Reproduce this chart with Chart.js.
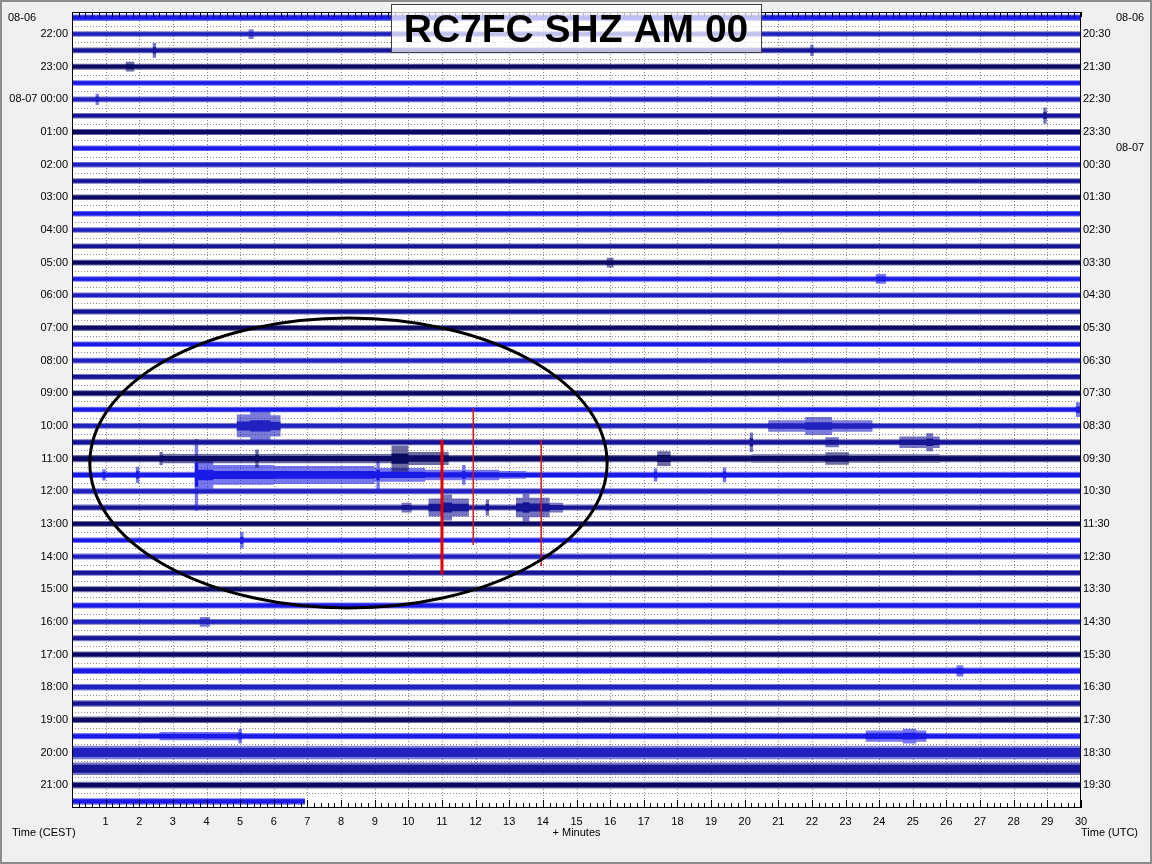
<!DOCTYPE html>
<html>
<head>
<meta charset="utf-8">
<script src="https://cdn.jsdelivr.net/npm/chart.js@4.4.0/dist/chart.umd.min.js"></script>
<style>
  html, body { margin: 0; padding: 0; background: #f0f0f0; }
  canvas { display: block; }
</style>
</head>
<body>
<canvas id="heli" width="1152" height="864"></canvas>
<script>
// ==============================
// DATA (read off the helicorder)
// ==============================
const title = 'RC7FC SHZ AM 00';

// left labels (CEST) for the odd traces 1,3,...,47
const leftLabels = ['22:00', '23:00', '08-07 00:00', '01:00', '02:00', '03:00', '04:00', '05:00',
  '06:00', '07:00', '08:00', '09:00', '10:00', '11:00', '12:00', '13:00', '14:00', '15:00',
  '16:00', '17:00', '18:00', '19:00', '20:00', '21:00'];

// right labels (UTC, end of line) for the same traces
const rightLabels = ['20:30', '21:30', '22:30', '23:30', '00:30', '01:30', '02:30', '03:30',
  '04:30', '05:30', '06:30', '07:30', '08:30', '09:30', '10:30', '11:30', '12:30', '13:30',
  '14:30', '15:30', '16:30', '17:30', '18:30', '19:30'];

// date labels: [trace, text]
const leftDates = [[0, '08-06']];
const rightDates = [[0, '08-06'], [8, '08-07']];

// minutes on the x axis
const minuteTicks = [1, 2, 3, 4, 5, 6, 7, 8, 9, 10, 11, 12, 13, 14, 15, 16, 17, 18, 19, 20,
  21, 22, 23, 24, 25, 26, 27, 28, 29, 30];

// background noise half-amplitude of each trace (in trace spacings)
const baseAmp = [0.20, 0.17, 0.17, 0.18, 0.17, 0.18, 0.17, 0.18, 0.17, 0.17,
  0.17, 0.17, 0.17, 0.17, 0.17, 0.17, 0.17, 0.17, 0.17, 0.18,
  0.17, 0.17, 0.18, 0.18, 0.17, 0.18, 0.18, 0.22, 0.19, 0.18,
  0.18, 0.18, 0.17, 0.18, 0.18, 0.18, 0.18, 0.18, 0.18, 0.18,
  0.20, 0.20, 0.20, 0.20, 0.19, 0.42, 0.38, 0.20, 0.20];

// last line stops here (minutes)
const lastTraceEnd = 6.93;

// events: [trace, from min, to min, half-amplitude]
const events = [
  [1, 5.25, 5.4, 0.3],
  [2, 2.4, 2.5, 0.45],
  [2, 21.95, 22.05, 0.35],
  [3, 1.6, 1.85, 0.3],
  [5, 0.7, 0.8, 0.35],
  [6, 28.88, 28.98, 0.5],
  [15, 15.9, 16.1, 0.3],
  [16, 23.9, 24.2, 0.3],
  [24, 29.85, 30, 0.45],
  [25, 4.9, 5.3, 0.7],
  [25, 5.3, 5.9, 0.95],
  [25, 5.9, 6.2, 0.65],
  [25, 20.7, 21.8, 0.35],
  [25, 21.8, 22.6, 0.55],
  [25, 22.6, 23.8, 0.35],
  [26, 20.15, 20.25, 0.6],
  [26, 22.4, 22.8, 0.3],
  [26, 24.6, 25.8, 0.35],
  [26, 25.4, 25.6, 0.55],
  [27, 2.6, 2.7, 0.4],
  [27, 2.7, 9.5, 0.28],
  [27, 5.45, 5.55, 0.55],
  [27, 9.5, 10.0, 0.8],
  [27, 10.0, 11.2, 0.4],
  [27, 17.4, 17.8, 0.45],
  [27, 20.2, 25.8, 0.26],
  [27, 22.4, 23.1, 0.38],
  [28, 0.9, 1.0, 0.35],
  [28, 1.9, 2.0, 0.5],
  [28, 3.65, 3.75, 2.2],
  [28, 3.75, 4.2, 0.85],
  [28, 4.2, 6.0, 0.6],
  [28, 6.0, 9.0, 0.55],
  [28, 9.0, 10.5, 0.42],
  [28, 9.05, 9.15, 0.9],
  [28, 10.5, 12.7, 0.32],
  [28, 11.6, 11.7, 0.6],
  [28, 12.7, 13.5, 0.24],
  [28, 17.3, 17.4, 0.4],
  [28, 19.35, 19.45, 0.45],
  [30, 9.8, 10.1, 0.3],
  [30, 10.6, 11.8, 0.55],
  [30, 11.0, 11.3, 0.8],
  [30, 12.3, 12.4, 0.5],
  [30, 13.2, 14.2, 0.6],
  [30, 13.4, 13.6, 0.85],
  [30, 14.2, 14.6, 0.3],
  [32, 5.0, 5.1, 0.5],
  [37, 3.8, 4.1, 0.3],
  [40, 26.3, 26.5, 0.35],
  [44, 2.6, 5.0, 0.25],
  [44, 4.95, 5.05, 0.45],
  [44, 23.6, 25.4, 0.35],
  [44, 24.7, 25.1, 0.45]
];

// red picks: [minute, from trace, to trace, line width]
const redMarks = [
  [11.0, 25.85, 34.1, 3],
  [11.93, 23.9, 32.3, 1.5],
  [13.95, 25.85, 33.6, 1.5]
];

// hand drawn ellipse (minutes / traces)
const circle = { cx: 8.22, cy: 27.27, rx: 7.69, ry: 8.88 };

// ==============================
// STYLE
// ==============================
const traceColors = ['#1a1ae6', '#2222c0', '#161696', '#0a0a64'];
const FONT = '"Liberation Sans", Arial, sans-serif';

function hexA(hex, a) {
  const n = parseInt(hex.slice(1), 16);
  return `rgba(${n >> 16},${(n >> 8) & 255},${n & 255},${a})`;
}

// step envelope of one trace -> [x, outer amp, core amp]
function envelope(i) {
  const end = i === baseAmp.length - 1 ? lastTraceEnd : 30;
  const base = baseAmp[i];
  const evs = events.filter(e => e[0] === i && e[1] < end);
  const xs = new Set([0, end]);
  evs.forEach(e => { xs.add(e[1]); xs.add(Math.min(e[2], end)); });
  const sorted = [...xs].sort((a, b) => a - b);
  const pts = [];
  for (let k = 0; k < sorted.length - 1; k++) {
    const a = sorted[k], b = sorted[k + 1], mid = (a + b) / 2;
    let amp = base;
    evs.forEach(e => { if (e[1] <= mid && mid < e[2]) amp = Math.max(amp, e[3]); });
    const core = base * 0.65 + (amp - base) * 0.3;
    pts.push([a, amp, core], [b, amp, core]);
  }
  return pts;
}

const datasets = [];
baseAmp.forEach((_, i) => {
  const env = envelope(i);
  const col = traceColors[i % 4];
  const common = { type: 'line', pointRadius: 0, borderWidth: 0, tension: 0, order: 1 };
  datasets.push({ ...common, data: env.map(([x, a]) => ({ x, y: i - a })), fill: false });
  datasets.push({ ...common, data: env.map(([x, a]) => ({ x, y: i + a })), fill: '-1', backgroundColor: hexA(col, 0.6) });
  datasets.push({ ...common, data: env.map(([x, a, c]) => ({ x, y: i - c })), fill: false });
  datasets.push({ ...common, data: env.map(([x, a, c]) => ({ x, y: i + c })), fill: '-1', backgroundColor: col });
});
redMarks.forEach(([m, t0, t1, w]) => {
  datasets.push({
    type: 'line', data: [{ x: m, y: t0 }, { x: m, y: t1 }],
    borderColor: w > 2 ? '#e00000' : '#d01818', borderWidth: w, pointRadius: 0, fill: false, order: -1
  });
});

// ==============================
// PLUGIN: frame, grid, ticks, ellipse, title
// ==============================
const helicorder = {
  id: 'helicorder',
  beforeDraw(chart) {
    const { ctx, chartArea: a } = chart;
    const x = chart.scales.x, y = chart.scales.y;
    ctx.save();
    ctx.fillStyle = '#f0f0f0';
    ctx.fillRect(0, 0, chart.width, chart.height);
    ctx.strokeStyle = '#8c8c8c';
    ctx.lineWidth = 2;
    ctx.strokeRect(1, 1, chart.width - 2, chart.height - 2);
    ctx.fillStyle = '#ffffff';
    ctx.fillRect(a.left, a.top, a.right - a.left, a.bottom - a.top);

    ctx.strokeStyle = '#8a8a8a';
    ctx.lineWidth = 1;
    ctx.setLineDash([1, 2]);
    ctx.beginPath();
    for (let m = 1; m < 30; m++) {
      const px = Math.round(x.getPixelForValue(m)) + 0.5;
      ctx.moveTo(px, a.top); ctx.lineTo(px, a.bottom);
    }
    for (let i = 0; i < baseAmp.length - 1; i++) {
      const py = Math.round(y.getPixelForValue(i + 0.5)) + 0.5;
      ctx.moveTo(a.left, py); ctx.lineTo(a.right, py);
    }
    ctx.stroke();
    ctx.restore();
  },
  afterDatasetsDraw(chart) {
    const { ctx, chartArea: a } = chart;
    const x = chart.scales.x, y = chart.scales.y;
    ctx.save();

    // ticks every 0.2 min, top and bottom
    ctx.strokeStyle = '#000';
    ctx.lineWidth = 1;
    ctx.beginPath();
    for (let k = 0; k <= 150; k++) {
      const px = Math.round(x.getPixelForValue(k / 5)) + 0.5;
      ctx.moveTo(px, a.top); ctx.lineTo(px, a.top + 5);
      ctx.moveTo(px, a.bottom); ctx.lineTo(px, a.bottom - (k % 5 === 0 ? 8 : 5));
    }
    ctx.stroke();
    ctx.strokeRect(a.left + 0.5, a.top + 0.5, a.right - a.left - 1, a.bottom - a.top - 1);

    // text around the plot
    ctx.fillStyle = '#000';
    ctx.font = '11px ' + FONT;
    ctx.textBaseline = 'middle';
    ctx.textAlign = 'left';
    leftDates.forEach(([t, s]) => ctx.fillText(s, 8, y.getPixelForValue(t)));
    rightDates.forEach(([t, s]) => ctx.fillText(s, 1116, y.getPixelForValue(t)));
    ctx.fillText('Time (CEST)', 12, 833);
    ctx.fillText('Time (UTC)', 1081, 833);
    ctx.textAlign = 'center';
    ctx.fillText('+ Minutes', x.getPixelForValue(15), 833);

    // ellipse
    const cx = x.getPixelForValue(circle.cx), cy = y.getPixelForValue(circle.cy);
    const rx = Math.abs(x.getPixelForValue(circle.cx + circle.rx) - cx);
    const ry = Math.abs(y.getPixelForValue(circle.cy + circle.ry) - cy);
    ctx.strokeStyle = '#000';
    ctx.lineWidth = 3;
    ctx.beginPath();
    ctx.ellipse(cx, cy, rx, ry, 0, 0, Math.PI * 2);
    ctx.stroke();

    // title box
    ctx.fillStyle = 'rgba(255,255,255,0.72)';
    ctx.fillRect(391, 4, 371, 49);
    ctx.strokeStyle = '#404040';
    ctx.lineWidth = 1;
    ctx.strokeRect(391.5, 4.5, 370, 48);
    ctx.fillStyle = '#000';
    ctx.font = 'bold 39px ' + FONT;
    ctx.textAlign = 'center';
    ctx.textBaseline = 'alphabetic';
    ctx.fillText(title, 576, 42);
    ctx.restore();
  }
};

// ==============================
// CHART
// ==============================
const oddTraces = leftLabels.map((_, k) => 2 * k + 1);
const labelFont = { family: FONT, size: 11 };

new Chart(document.getElementById('heli'), {
  type: 'line',
  data: { datasets },
  options: {
    responsive: false,
    animation: false,
    devicePixelRatio: 1,
    layout: { padding: { top: 12, left: 0, right: 0, bottom: 0 } },
    plugins: { legend: { display: false }, tooltip: { enabled: false } },
    scales: {
      x: {
        type: 'linear', min: 0, max: 30, position: 'bottom',
        grid: { display: false, drawTicks: false },
        border: { display: false },
        afterBuildTicks: s => { s.ticks = minuteTicks.map(v => ({ value: v })); },
        afterFit: s => { s.height = 56; },
        ticks: { color: '#000', font: labelFont, padding: 7, maxRotation: 0, autoSkip: false }
      },
      y: {
        type: 'linear', min: -0.35, max: 48.4, reverse: true, position: 'left',
        grid: { display: false, drawTicks: false },
        border: { display: false },
        afterBuildTicks: s => { s.ticks = oddTraces.map(v => ({ value: v })); },
        afterFit: s => { s.width = 72; },
        ticks: { color: '#000', font: labelFont, padding: 4, autoSkip: false,
          callback: v => leftLabels[(v - 1) / 2] }
      },
      y2: {
        type: 'linear', min: -0.35, max: 48.4, reverse: true, position: 'right',
        grid: { display: false, drawTicks: false },
        border: { display: false },
        afterBuildTicks: s => { s.ticks = oddTraces.map(v => ({ value: v })); },
        afterFit: s => { s.width = 71; },
        ticks: { color: '#000', font: labelFont, padding: 2, autoSkip: false,
          callback: v => rightLabels[(v - 1) / 2] }
      }
    }
  },
  plugins: [helicorder]
});
</script>
</body>
</html>
